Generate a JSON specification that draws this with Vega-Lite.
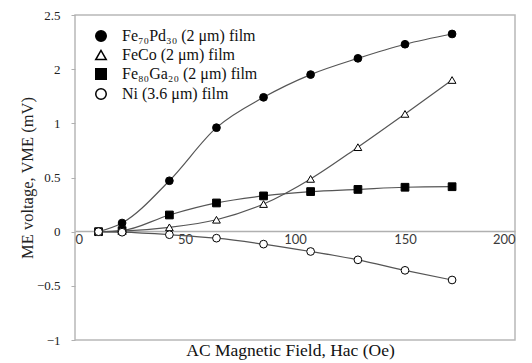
{
  "$schema": "https://vega.github.io/schema/vega-lite/v6.json",
  "width": 440,
  "height": 325,
  "autosize": {"type": "none"},
  "padding": {"left": 75, "top": 15, "right": 17, "bottom": 23},
  "background": "white",
  "config": {"view": {"stroke": "#b8b8b8", "strokeWidth": 1.5}},
  "data": {
    "values": [
      {"H": 10.7, "V": 0, "s": "Fe₇₀Pd₃₀ (2 μm) film"},
      {"H": 21.4, "V": 0.08, "s": "Fe₇₀Pd₃₀ (2 μm) film"},
      {"H": 42.9, "V": 0.47, "s": "Fe₇₀Pd₃₀ (2 μm) film"},
      {"H": 64.3, "V": 0.96, "s": "Fe₇₀Pd₃₀ (2 μm) film"},
      {"H": 85.7, "V": 1.24, "s": "Fe₇₀Pd₃₀ (2 μm) film"},
      {"H": 107.1, "V": 1.45, "s": "Fe₇₀Pd₃₀ (2 μm) film"},
      {"H": 128.6, "V": 1.6, "s": "Fe₇₀Pd₃₀ (2 μm) film"},
      {"H": 150, "V": 1.73, "s": "Fe₇₀Pd₃₀ (2 μm) film"},
      {"H": 171.4, "V": 1.825, "s": "Fe₇₀Pd₃₀ (2 μm) film"},
      {"H": 10.7, "V": 0, "s": "FeCo (2 μm) film"},
      {"H": 21.4, "V": 0.005, "s": "FeCo (2 μm) film"},
      {"H": 42.9, "V": 0.04, "s": "FeCo (2 μm) film"},
      {"H": 64.3, "V": 0.11, "s": "FeCo (2 μm) film"},
      {"H": 85.7, "V": 0.255, "s": "FeCo (2 μm) film"},
      {"H": 107.1, "V": 0.487, "s": "FeCo (2 μm) film"},
      {"H": 128.6, "V": 0.78, "s": "FeCo (2 μm) film"},
      {"H": 150, "V": 1.087, "s": "FeCo (2 μm) film"},
      {"H": 171.4, "V": 1.4, "s": "FeCo (2 μm) film"},
      {"H": 10.7, "V": 0, "s": "Fe₈₀Ga₂₀ (2 μm) film"},
      {"H": 21.4, "V": 0.01, "s": "Fe₈₀Ga₂₀ (2 μm) film"},
      {"H": 42.9, "V": 0.154, "s": "Fe₈₀Ga₂₀ (2 μm) film"},
      {"H": 64.3, "V": 0.265, "s": "Fe₈₀Ga₂₀ (2 μm) film"},
      {"H": 85.7, "V": 0.33, "s": "Fe₈₀Ga₂₀ (2 μm) film"},
      {"H": 107.1, "V": 0.37, "s": "Fe₈₀Ga₂₀ (2 μm) film"},
      {"H": 128.6, "V": 0.39, "s": "Fe₈₀Ga₂₀ (2 μm) film"},
      {"H": 150, "V": 0.41, "s": "Fe₈₀Ga₂₀ (2 μm) film"},
      {"H": 171.4, "V": 0.415, "s": "Fe₈₀Ga₂₀ (2 μm) film"},
      {"H": 10.7, "V": 0, "s": "Ni (3.6 μm) film"},
      {"H": 21.4, "V": -0.005, "s": "Ni (3.6 μm) film"},
      {"H": 42.9, "V": -0.028, "s": "Ni (3.6 μm) film"},
      {"H": 64.3, "V": -0.06, "s": "Ni (3.6 μm) film"},
      {"H": 85.7, "V": -0.115, "s": "Ni (3.6 μm) film"},
      {"H": 107.1, "V": -0.183, "s": "Ni (3.6 μm) film"},
      {"H": 128.6, "V": -0.26, "s": "Ni (3.6 μm) film"},
      {"H": 150, "V": -0.357, "s": "Ni (3.6 μm) film"},
      {"H": 171.4, "V": -0.446, "s": "Ni (3.6 μm) film"}
    ]
  },
  "encoding": {
    "x": {
      "field": "H",
      "type": "quantitative",
      "scale": {"domain": [0, 200], "nice": false},
      "axis": {
        "title": "AC Magnetic Field, Hac (Oe)",
        "values": [0, 50, 100, 150, 200],
        "offset": -109,
        "grid": false,
        "domainColor": "#b0b0b0",
        "domainWidth": 1.5,
        "ticks": false,
        "labelPadding": 2,
        "labelFont": "Lato",
        "labelFontSize": 13,
        "labelColor": "#3a3a3a",
        "titleFont": "Liberation Serif",
        "titleFontSize": 17.5,
        "titleFontWeight": "normal",
        "titleColor": "#111",
        "titlePadding": 95,
        "titleX": 215
      }
    },
    "y": {
      "field": "V",
      "type": "quantitative",
      "scale": {"domain": [-1, 2], "nice": false, "zero": false},
      "axis": {
        "title": "ME voltage, VME (mV)",
        "values": [-1, -0.5, 0, 0.5, 1, 1.5, 2],
        "format": "~g",
        "labelExpr": "datum.value == 2 ? '2.5' : datum.value == 1.5 ? '2' : datum.label",
        "grid": false,
        "domain": false,
        "tickColor": "#b0b0b0",
        "tickSize": 4,
        "labelPadding": 11,
        "labelFont": "Liberation Serif",
        "labelFontSize": 13,
        "labelColor": "#222",
        "titleFont": "Liberation Serif",
        "titleFontSize": 16.5,
        "titleFontWeight": "normal",
        "titleColor": "#222",
        "titlePadding": 1
      }
    }
  },
  "layer": [
    {
      "mark": {"type": "line", "interpolate": "monotone", "stroke": "#555", "strokeWidth": 1.2},
      "encoding": {"detail": {"field": "s"}}
    },
    {
      "mark": {"type": "point", "filled": true, "stroke": "black", "strokeWidth": 1, "opacity": 1, "size": 60},
      "encoding": {
        "shape": {
          "field": "s",
          "type": "nominal",
          "scale": {
            "domain": ["Fe₇₀Pd₃₀ (2 μm) film", "FeCo (2 μm) film", "Fe₈₀Ga₂₀ (2 μm) film", "Ni (3.6 μm) film"],
            "range": ["circle", "triangle-up", "square", "circle"]
          },
          "legend": {
            "title": null,
            "orient": "none",
            "legendX": 18,
            "legendY": 13,
            "labelFont": "Liberation Serif",
            "labelFontSize": 16,
            "labelColor": "#111",
            "symbolSize": 110,
            "rowPadding": 2,
            "labelOffset": 13,
            "encode": {"symbols": {"update": {"stroke": {"value": "black"}, "strokeWidth": {"value": 1.2}}}}
          }
        },
        "fill": {
          "field": "s",
          "type": "nominal",
          "scale": {
            "domain": ["Fe₇₀Pd₃₀ (2 μm) film", "FeCo (2 μm) film", "Fe₈₀Ga₂₀ (2 μm) film", "Ni (3.6 μm) film"],
            "range": ["black", "white", "black", "white"]
          },
          "legend": {
            "title": null,
            "orient": "none",
            "legendX": 18,
            "legendY": 13,
            "labelFont": "Liberation Serif",
            "labelFontSize": 16,
            "labelColor": "#111",
            "symbolSize": 110,
            "rowPadding": 2,
            "labelOffset": 13,
            "encode": {"symbols": {"update": {"stroke": {"value": "black"}, "strokeWidth": {"value": 1.2}}}}
          }
        }
      }
    }
  ]
}
